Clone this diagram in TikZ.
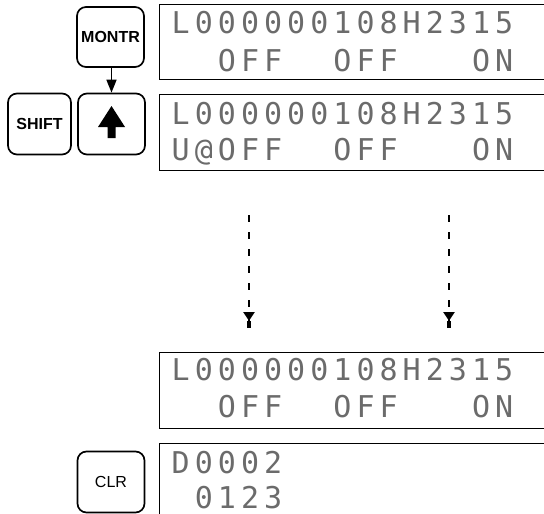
\documentclass[tikz,border=0pt]{standalone}
\usepackage{fontspec}
\setmainfont{Liberation Sans}
\newfontfamily\lcdfont{DejaVu Sans Mono}
\usetikzlibrary{arrows.meta}
\tikzset{
  key/.style={draw, line width=1.7pt, rounded corners=9pt, inner sep=0pt, font=\bfseries\fontsize{16}{16}\selectfont},
  display/.style={draw, line width=1.1pt, anchor=north west, inner sep=0pt},
  lcd/.style={anchor=base west, inner sep=0pt, text=black!58, font=\lcdfont\fontsize{30}{30}\selectfont},
  flow/.style={line width=1.6pt, -{Triangle[length=13pt,width=10pt]}},
  dflow/.style={line width=2.6pt, dash pattern=on 6.5pt off 10.5pt, -{Triangle[length=9pt,width=11pt] Rectangle[length=7pt,width=3.5pt]}}
}
\newcommand{\lcdrow}[4]{% name, baseline y, start col, chars
  \foreach \ch [count=\i from 0] in {#4}
    \node[lcd] (#1-\i) at ({171.5+23.1*(#3+\i)}, #2) {\ch};
}
\begin{document}
\begin{tikzpicture}[x=1pt,y=-1pt]
\useasboundingbox (0,0) rectangle (544,514);
\begin{scope}
\clip (0,0) rectangle (544,514);
% displays
\node[display, minimum width=420pt, minimum height=75pt] (d1) at (159,4) {};
\node[display, minimum width=420pt, minimum height=76pt] (d2) at (159,94) {};
\node[display, minimum width=420pt, minimum height=76pt] (d3) at (159,352) {};
\node[display, minimum width=420pt, minimum height=100pt] (d4) at (159,443) {};
\end{scope}
% display texts
\lcdrow{a1}{34}{0}{L,0,0,0,0,0,0,1,0,8,H,2,3,1,5}
\lcdrow{a2}{71}{2}{O,F,F}
\lcdrow{a3}{71}{7}{O,F,F}
\lcdrow{a4}{71}{13}{O,N}
\lcdrow{b1}{124}{0}{L,0,0,0,0,0,0,1,0,8,H,2,3,1,5}
\lcdrow{b2}{160}{0}{U,@,O,F,F}
\lcdrow{b3}{160}{7}{O,F,F}
\lcdrow{b4}{160}{13}{O,N}
\lcdrow{c1}{380}{0}{L,0,0,0,0,0,0,1,0,8,H,2,3,1,5}
\lcdrow{c2}{417}{2}{O,F,F}
\lcdrow{c3}{417}{7}{O,F,F}
\lcdrow{c4}{417}{13}{O,N}
\lcdrow{e1}{473}{0}{D,0,0,0,2}
\lcdrow{e2}{508}{1}{0,1,2,3}
% keys
\node[key, minimum width=67pt, minimum height=60pt] (montr) at (110.5,37) {MONTR};
\node[key, minimum width=67pt, minimum height=61pt] (up) at (111.5,124) {};
\node[key, minimum width=63pt, minimum height=61pt] (shift) at (39.5,124) {SHIFT};
\node[key, minimum width=67pt, minimum height=61pt, font=\fontsize{16}{16}\selectfont] (clr) at (111,482) {CLR};
% up arrow glyph
\fill (111.5,106) -- (125,127) -- (115.5,127) -- (115.5,138) -- (107.5,138) -- (107.5,127) -- (98,127) -- cycle;
% connectors
\draw[flow] (montr.south -| up.north) -- (up.north);
\coordinate (s1) at (249,215);
\coordinate (t1) at (249,328);
\coordinate (s2) at (449,215);
\coordinate (t2) at (449,328);
\draw[dflow] (s1) -- (t1);
\draw[dflow] (s2) -- (t2);
\end{tikzpicture}
\end{document}
